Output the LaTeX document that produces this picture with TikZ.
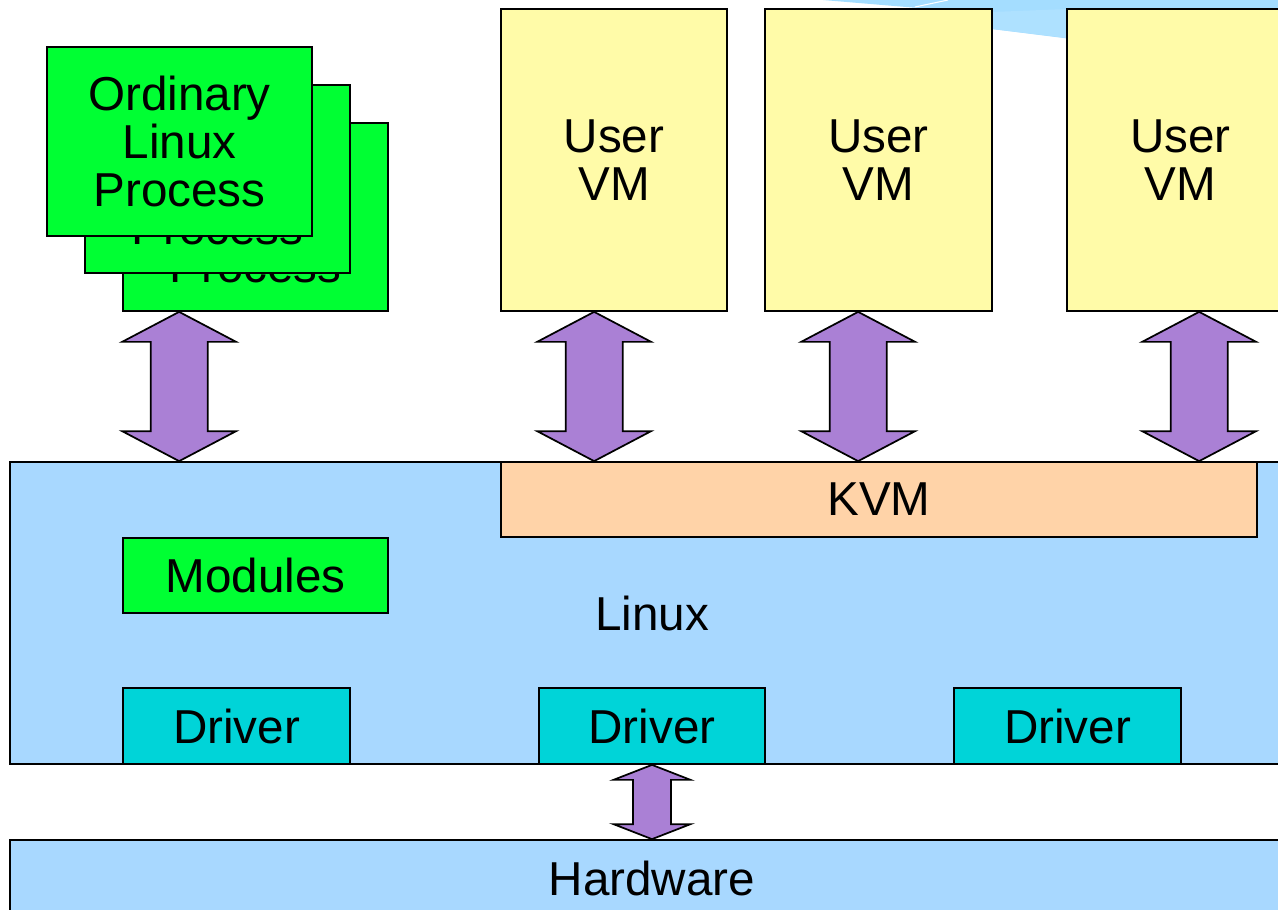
\documentclass[tikz,border=0pt]{standalone}
\usepackage{fontspec}
\setmainfont{Liberation Sans}
\usetikzlibrary{calc}
\definecolor{lblue}{HTML}{A8D8FF}
\definecolor{pgreen}{HTML}{00FF33}
\definecolor{pyellow}{HTML}{FFFBA8}
\definecolor{ppeach}{HTML}{FFD3A8}
\definecolor{pcyan}{HTML}{00D4D8}
\definecolor{ppurple}{HTML}{AA80D5}
\definecolor{streak}{HTML}{A4DDFF}
\definecolor{streaklight}{HTML}{AEE1FF}
\newcommand\fatarrow[5]{%
  \draw[fatarr] (#1) -- ($(#1)+(#3,#5)$) -- ($(#1)+(#4,#5)$) -- ($(#2)+(#4,-#5)$)
    -- ($(#2)+(#3,-#5)$) -- (#2) -- ($(#2)+(-#3,-#5)$) -- ($(#2)+(-#4,-#5)$)
    -- ($(#1)+(-#4,#5)$) -- ($(#1)+(-#3,#5)$) -- cycle;}
\begin{document}
\begin{tikzpicture}[x=0.75pt,y=-0.75pt,
  box/.style 2 args={draw=black, line width=1.3pt, inner sep=0pt,
    minimum width=#1*0.75pt, minimum height=#2*0.75pt,
    font=\fontsize{35.7}{36}\selectfont, align=center, text=black},
  fatarr/.style={draw=black, line width=1.3pt, fill=ppurple, line join=miter},
  lbl/.style={font=\fontsize{35.7}{36}\selectfont, text=black, inner sep=0pt}]
\useasboundingbox (0,0) rectangle (1278,910);
\clip (0,0) rectangle (1278,910);
\fill[white] (0,0) rectangle (1278,910);
% background streak
\fill[streak] (823,0) -- (1278,0) -- (1278,65) -- (992,29) -- (930,9) -- cycle;
\fill[streaklight] (992,12) -- (1067,9) -- (1067,38) -- (992,29) -- cycle;
\draw[white, line width=0.8pt] (915,7) -- (948,0);
% process stack
\node[box={265}{188}, fill=pgreen] (proc3) at (255.5,217) {Ordinary\\Linux\\Process};
\node[box={265}{188}, fill=pgreen] (proc2) at (217.5,179) {Ordinary\\Linux\\Process};
\node[box={265}{189}, fill=pgreen] (proc1) at (179.5,141.5) {Ordinary\\Linux\\Process};
% user VMs
\node[box={226}{302}, fill=pyellow] (vm1) at (614,160) {User\\VM};
\node[box={227}{302}, fill=pyellow] (vm2) at (878.5,160) {User\\VM};
\node[box={227}{302}, fill=pyellow] (vm3) at (1180.5,160) {User\\VM};
% Linux
\node[box={1284}{302}, fill=lblue] (linux) at (652,613) {};
\node[lbl] (linuxlbl) at (652,613) {Linux};
\node[box={756}{75}, fill=ppeach] (kvm) at (879,499.5) {KVM};
\node[box={265}{75}, fill=pgreen] (modules) at (255.5,575.5) {Modules};
\node[box={227}{76}, fill=pcyan] (drv1) at (236.5,726) {Driver};
\node[box={226}{76}, fill=pcyan] (drv2) at (652,726) {Driver};
\node[box={227}{76}, fill=pcyan] (drv3) at (1067.5,726) {Driver};
% Hardware
\node[box={1284}{76}, fill=lblue] (hw) at (652,878) {Hardware};
% arrows
\path (proc3.south west) ++(57,0) coordinate (a1t);
\path (a1t |- linux.north) coordinate (a1b);
\path (vm1.south west) ++(94,0) coordinate (a2t);
\path (a2t |- kvm.north) coordinate (a2b);
\path (vm2.south west) ++(94,0) coordinate (a3t);
\path (a3t |- kvm.north) coordinate (a3b);
\path (vm3.south west) ++(133,0) coordinate (a4t);
\path (a4t |- kvm.north) coordinate (a4b);
\fatarrow{a1t}{a1b}{57}{28.5}{30}
\fatarrow{a2t}{a2b}{57}{28.5}{30}
\fatarrow{a3t}{a3b}{57}{28.5}{30}
\fatarrow{a4t}{a4b}{57}{28.5}{30}
\fatarrow{drv2.south}{hw.north}{38.5}{19}{15}
\end{tikzpicture}
\end{document}
